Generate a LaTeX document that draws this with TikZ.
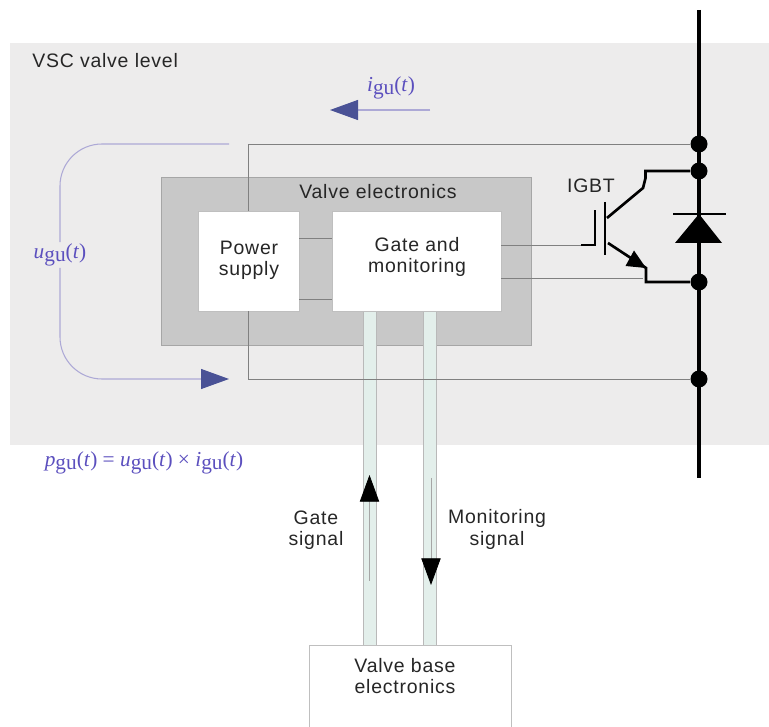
\documentclass[tikz,border=0pt]{standalone}
\usepackage{fontspec}
\setmainfont[LetterSpace=4]{Liberation Sans}
\newfontfamily\symfont{Liberation Serif}
\usetikzlibrary{arrows.meta, positioning, calc}
\definecolor{panelgray}{HTML}{EDECEC}
\definecolor{boxgray}{HTML}{C8C8C8}
\definecolor{fibregreen}{HTML}{E3EFEB}
\definecolor{symblue}{HTML}{5B4FBE}
\definecolor{senseline}{HTML}{ADA9D6}
\definecolor{sensehead}{HTML}{4A5296}
\newcommand{\guvar}[1]{\textit{#1}\raisebox{-.32ex}{gu}(\textit{t})}
\def\px{0.75pt}

\begin{document}
\begin{tikzpicture}[
  x=\px, y=-\px,
  lbl/.style={font=\fontsize{14.6}{16}\selectfont, text=black!85, align=center, inner sep=0pt},
  sym/.style={font=\fontsize{16}{18}\selectfont\symfont, text=symblue, inner sep=1pt},
  whitebox/.style={draw=gray!50, fill=white, line width=0.7pt, inner sep=0pt},
  fibre/.style={draw=gray!55, fill=fibregreen, line width=0.7pt, inner sep=0pt, minimum width=13*\px, minimum height=334*\px},
  wire/.style={draw=black!50, line width=0.6pt},
  bus/.style={line width=2.8pt, black},
  dot/.style={circle, fill=black, inner sep=0pt, minimum size=17*\px},
  sense/.style={draw=senseline, line width=0.8pt},
  sensetip/.style={-{Triangle[length=21pt, width=15pt, color=sensehead]}},
  sigtip/.style={-{Triangle[length=20pt, width=14.5pt, color=black]}, draw=gray!70, line width=0.6pt}
]
  \useasboundingbox (0,0) rectangle (769,727);

  %--- valve level panel ---
  \node[fill=panelgray, inner sep=0pt, minimum width=759*\px, minimum height=402*\px] (level) at (389.5,244) {};
  \node[lbl, anchor=west] (levelname) at (32,61) {VSC valve level};

  %--- valve electronics ---
  \node[draw=gray!70, fill=boxgray, line width=0.7pt, inner sep=0pt, minimum width=370*\px, minimum height=168*\px] (valve) at (346,261) {};
  \node[lbl] (valvename) at (378,192) {Valve electronics};

  %--- fibres and base electronics ---
  \node[fibre] (fibregate) at (369.5,478) {};
  \node[fibre] (fibremon) at (430,478) {};
  \node[whitebox, minimum width=202*\px, minimum height=84*\px] (base) at (410,687) {};
  \node[lbl] (basename) at (405,676) {Valve base\\electronics};

  %--- bus and dots ---
  \coordinate (bustop) at (699,10);
  \coordinate (busbot) at (699,478);
  \node[dot] (dotA) at (699,144) {};
  \node[dot] (dotB) at (699,171) {};
  \node[dot] (dotC) at (699,282) {};
  \node[dot] (dotD) at (699,379) {};
  \draw[bus] (bustop) -- (busbot);

  %--- thin wires ---
  \node[whitebox, minimum width=101*\px, minimum height=100*\px] (psu) at (248.5,261) {};
  \node[lbl] (psuname) at (249,260) {Power\\supply};
  \node[whitebox, minimum width=169*\px, minimum height=100*\px] (gate) at (416.5,261) {};
  \node[lbl] (gatename) at (417,257) {Gate and\\monitoring};
  \draw[wire] (psu.north) |- (dotA);
  \draw[wire] (psu.south) |- (dotD);
  \coordinate (psuA) at (psu.east |- 0,238);
  \coordinate (psuB) at (psu.east |- 0,299);
  \draw[wire] (psuA) -- (gate.west |- psuA);
  \draw[wire] (psuB) -- (gate.west |- psuB);

  %--- IGBT ---
  \coordinate (gatein) at (581,245);
  \coordinate (gatebend) at (595,245);
  \coordinate (gatetop) at (595,210);
  \coordinate (basetop) at (605,202);
  \coordinate (basebot) at (605,255);
  \coordinate (coljoin) at (607,218);
  \coordinate (colmid) at (643,188);
  \coordinate (coltop) at (645.5,178);
  \coordinate (colend) at (645.5,171);
  \coordinate (emjoin) at (608,243);
  \coordinate (emmid) at (646,268);
  \coordinate (emend) at (646,282);
  \coordinate (gateC) at (gate.east |- 0,245);
  \coordinate (gateD) at (gate.east |- 0,278);
  \coordinate (emwire) at (643,278);
  \draw[wire] (gateC) -- (gatein);
  \draw[wire] (gateD) -- (emwire);
  \draw[line width=2.2pt, black] (gatein) -- (gatebend) -- (gatetop);
  \draw[line width=2.2pt, black] (basetop) -- (basebot);
  \draw[line width=2pt, black] (coljoin) -- (colmid) -- (coltop) -- (colend) -- (dotB);
  \draw[line width=2pt, black] (emjoin) -- (emmid) -- (emend) -- (dotC);
  \fill[black] (646,268) -- (625.5,266) -- (634,250.5) -- cycle;
  \node[lbl] (igbtname) at (591,185.5) {IGBT};

  %--- diode ---
  \coordinate (cathL) at (673,214);
  \coordinate (cathR) at (726,214);
  \draw[line width=2.2pt, black] (cathL) -- (cathR);
  \fill[black] (699,214) -- (722,243) -- (675,243) -- cycle;

  %--- current and voltage ---
  \coordinate (itail) at (430,110);
  \coordinate (itip) at (330,110);
  \draw[sense, sensetip] (itail) -- (itip);
  \node[sym] (ilabel) at (391,88) {\guvar{i}};
  \node[sym, fill=panelgray] (ulabel) at (60,255) {\guvar{u}};
  \coordinate (utop) at (229,144);
  \coordinate (ubot) at (229,379);
  \draw[sense, rounded corners=42*\px] (utop) -| (ulabel.north);
  \draw[sense, sensetip, rounded corners=42*\px] (ulabel.south) |- (ubot);
  \node[sym] (plabel) at (144,463) {\guvar{p} = \guvar{u} × \guvar{i}};

  %--- signals ---
  \coordinate (gatefrom) at (369.5,581);
  \coordinate (gateto) at (369.5,475);
  \coordinate (monfrom) at (431,478);
  \coordinate (monto) at (431,585);
  \draw[sigtip] (gatefrom) -- (gateto);
  \draw[sigtip] (monfrom) -- (monto);
  \node[lbl] (gatesig) at (316,530.5) {Gate\\signal};
  \node[lbl] (monsig) at (497,529.5) {Monitoring\\signal};
\end{tikzpicture}
\end{document}
